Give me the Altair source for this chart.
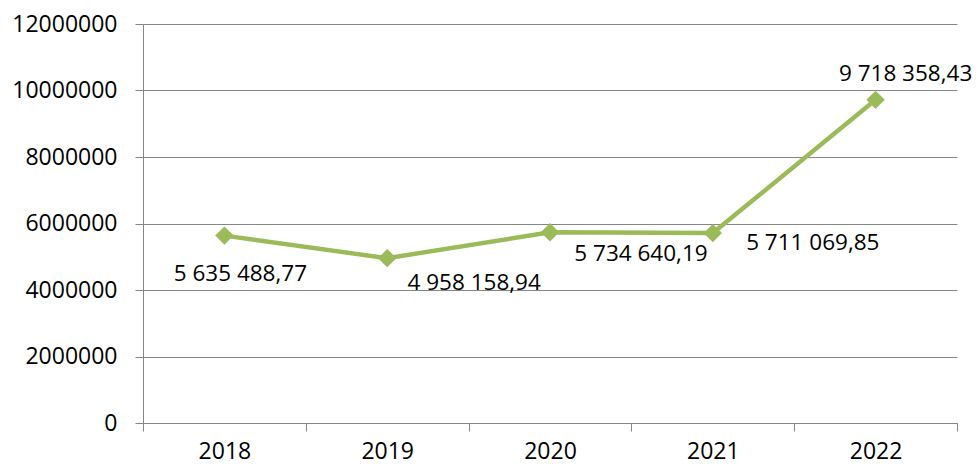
import altair as alt
import pandas as pd

years = ["2018", "2019", "2020", "2021", "2022"]
values = [5635488.77, 4958158.94, 5734640.19, 5711069.85, 9718358.43]
value_labels = ["5 635 488,77", "4 958 158,94", "5 734 640,19", "5 711 069,85", "9 718 358,43"]
y_ticks = [0, 2000000, 4000000, 6000000, 8000000, 10000000, 12000000]

# label placement (style): offsets of each data label from its point, in px
label_offsets = [(16, 38), (87, 25), (91, 22), (100, 10), (30, -26)]

df = pd.DataFrame({"year": years, "value": values, "label": value_labels})

FONT = "Open Sans"
GREEN = "#9BBB59"
GRAY = "#868686"

x = alt.X(
    "year:O",
    title=None,
    scale=alt.Scale(paddingInner=0, paddingOuter=0),
    axis=alt.Axis(
        labelAngle=0,
        tickBand="extent",
        domainColor=GRAY,
        tickColor=GRAY,
        tickSize=8,
        labelPadding=9,
        labelFont=FONT,
        labelFontSize=23,
        labelColor="#000000",
        grid=False,
    ),
)
y = alt.Y(
    "value:Q",
    title=None,
    scale=alt.Scale(domain=[0, 12000000], nice=False),
    axis=alt.Axis(
        values=y_ticks,
        format="d",
        domainColor=GRAY,
        tickColor=GRAY,
        tickSize=8,
        gridColor=GRAY,
        gridWidth=1,
        labelPadding=18,
        labelFont=FONT,
        labelFontSize=23,
        labelColor="#000000",
    ),
)

base = alt.Chart(df)
line = base.mark_line(color=GREEN, strokeWidth=4.5).encode(x=x, y=y)
points = base.mark_point(shape="diamond", filled=True, size=340, color=GREEN, opacity=1).encode(x=x, y=y)

layers = [line, points]
for yr, (dx, dy) in zip(years, label_offsets):
    layers.append(
        base.transform_filter(alt.datum.year == yr)
        .mark_text(font=FONT, fontSize=22.5, color="#000000", dx=dx, dy=dy, baseline="middle", align="center")
        .encode(x=x, y=y, text="label:N")
    )

chart = alt.layer(*layers).properties(
    width=814,
    height=399,
    autosize=alt.AutoSizeParams(type="none"),
    padding={"left": 135, "top": 16, "right": 15, "bottom": 42},
).configure_view(stroke=None)

chart.save("out.html", embed_options={"renderer": "svg", "actions": False})
